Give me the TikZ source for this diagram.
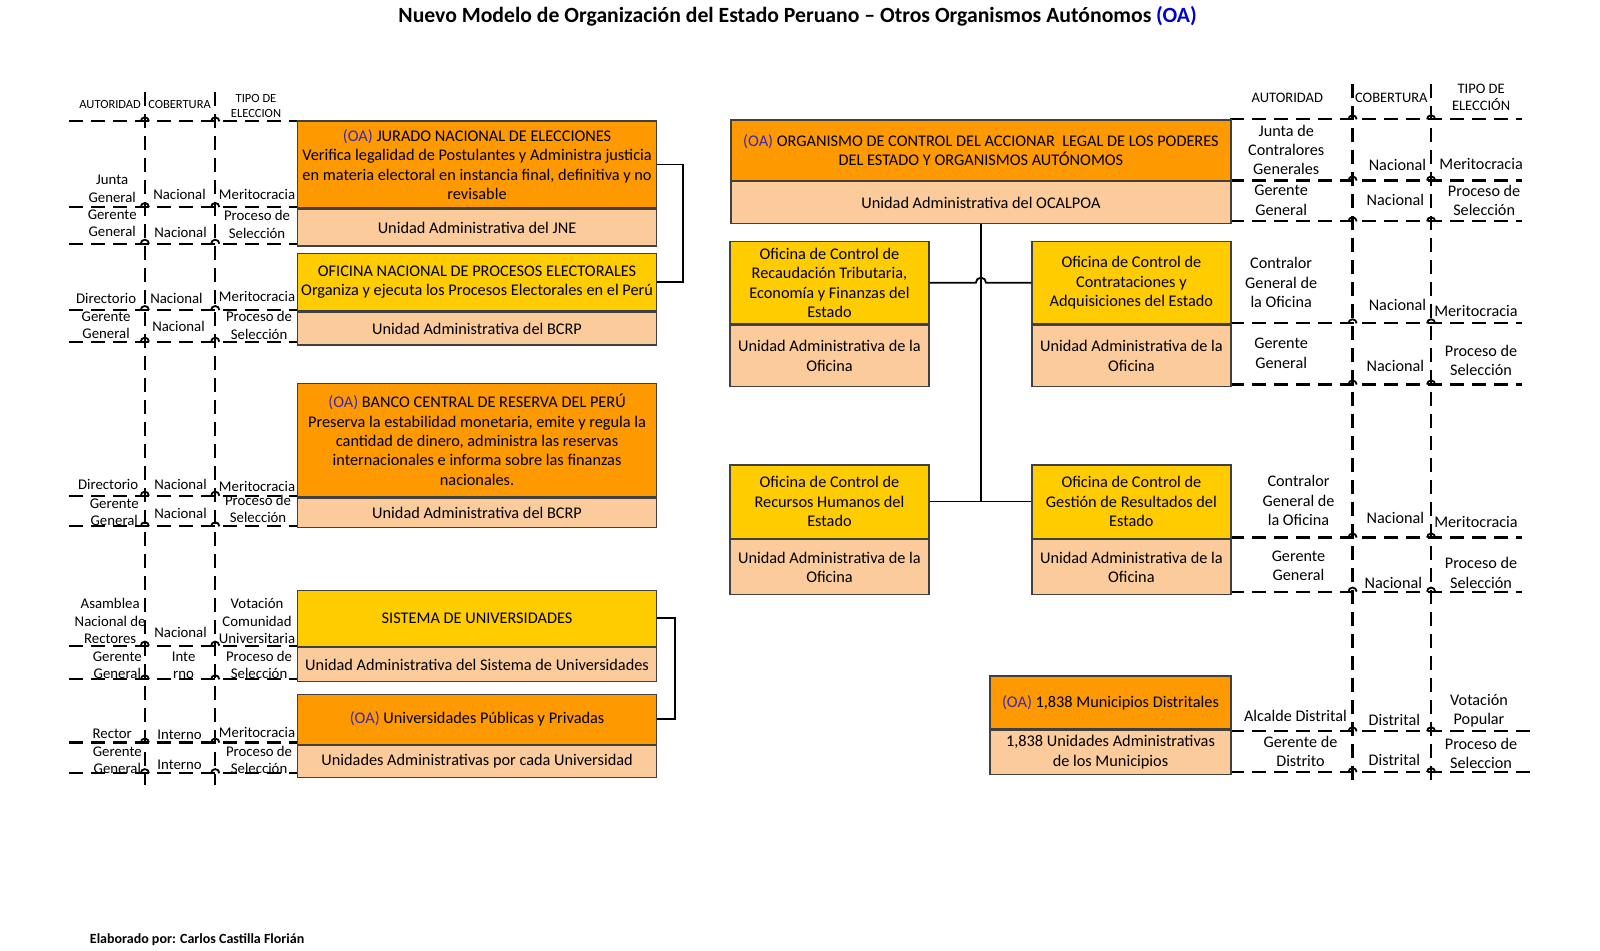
\documentclass[tikz,border=0pt]{standalone}
\usepackage{fontspec}
\setmainfont{Carlito}
\usetikzlibrary{calc}
\definecolor{orgc}{RGB}{255,153,0}
\definecolor{yelc}{RGB}{255,204,0}
\definecolor{pchc}{RGB}{251,203,155}
\definecolor{brdc}{RGB}{64,64,64}
\definecolor{oablue}{RGB}{60,40,180}
\definecolor{titblue}{RGB}{0,0,204}
\newcommand{\oa}{\textcolor{oablue}{(OA)}}
\newcommand{\myu}{1.02pt}
\begin{document}
\begin{tikzpicture}[x=1.02pt,y=-1.02pt,
  boxbase/.style={draw=brdc,line width=1.4pt,align=center,inner sep=2pt,font=\fontsize{16.3}{19.4}\selectfont},
  obox/.style={boxbase,fill=orgc,anchor=north west},
  ybox/.style={boxbase,fill=yelc,anchor=north west},
  pbox/.style={boxbase,fill=pchc,anchor=north},
  conn/.style={line width=1.8pt,black},
  tline/.style={line width=2.2pt,black,dash pattern=on 14pt off 8pt},
  hop/.style={line width=1.8pt,black},
  lab/.style={align=center,inner sep=0pt,font=\fontsize{14.8}{17.3}\selectfont},
  rlab/.style={align=center,inner sep=0pt,font=\fontsize{16.2}{19.4}\selectfont},
  lhead/.style={align=center,inner sep=0pt,font=\fontsize{12.5}{14.3}\selectfont},
  rhead/.style={align=center,inner sep=0pt,font=\fontsize{14.5}{17.3}\selectfont}]
\path[use as bounding box,fill=white] (0,0) rectangle (1568.6,931.4);

% title and footer
\node[font=\fontsize{21.7}{25}\selectfont\bfseries,inner sep=0pt] (title) at (782,16) {Nuevo Modelo de Organización del Estado Peruano -- Otros Organismos Autónomos \textcolor{titblue}{(OA)}};
\node[font=\fontsize{14}{16}\selectfont\bfseries,inner sep=0pt,anchor=west] (footer) at (88,921) {Elaborado por: Carlos Castilla Florián};

% left tables lines
\foreach \yy in {119,203,239,304,335,486,516,633,666,728,758}{
  \draw[tline] (68,\yy) -- (291,\yy);
}
\foreach \xx in {142,211}{
  \draw[tline] (\xx,90) -- (\xx,770);
  \foreach \yy in {119,203,239,304,335,486,516,633,666,728,758}{
    \draw[hop] (\xx-4,\yy) arc (180:360:4);
  }
}
% right table lines
\foreach \yy in {117,177,217,317,377,527,580}{
  \draw[tline] (1206,\yy) -- (1492,\yy);
}
\foreach \yy in {717,757}{
  \draw[tline] (1206,\yy) -- (1500,\yy);
}
\foreach \xx in {1326,1403}{
  \draw[tline] (\xx,82) -- (\xx,765);
  \foreach \yy in {117,177,217,317,377,527,580,717,757}{
    \draw[hop] (\xx-4,\yy) arc (180:360:4);
  }
}

% left boxes
\node[obox,minimum width=352*\myu,minimum height=85*\myu] (jne) at (291,118) {\oa{} JURADO NACIONAL DE ELECCIONES\\Verifica legalidad de Postulantes y Administra justicia\\en materia electoral en instancia final, definitiva y no\\revisable};
\node[pbox,minimum width=352*\myu,minimum height=36*\myu] (jneua) at (jne.south) {Unidad Administrativa del JNE};
\node[ybox,minimum width=352*\myu,minimum height=56*\myu] (onpe) at (291,248) {OFICINA NACIONAL DE PROCESOS ELECTORALES\\Organiza y ejecuta los Procesos Electorales en el Perú};
\node[pbox,minimum width=352*\myu,minimum height=32*\myu] (onpeua) at (onpe.south) {Unidad Administrativa del BCRP};
\node[obox,minimum width=352*\myu,minimum height=111*\myu] (bcrp) at (291,375) {\oa{} BANCO CENTRAL DE RESERVA DEL PERÚ\\Preserva la estabilidad monetaria, emite y regula la\\cantidad de dinero, administra las reservas\\internacionales e informa sobre las finanzas\\nacionales.};
\node[pbox,minimum width=352*\myu,minimum height=29*\myu] (bcrpua) at (bcrp.south) {Unidad Administrativa del BCRP};
\node[ybox,minimum width=352*\myu,minimum height=55*\myu] (sis) at (291,578) {SISTEMA DE UNIVERSIDADES};
\node[pbox,minimum width=352*\myu,minimum height=33*\myu] (sisua) at (sis.south) {Unidad Administrativa del Sistema de Universidades};
\node[obox,minimum width=352*\myu,minimum height=49*\myu] (univ) at (291,680) {\oa{} Universidades Públicas y Privadas};
\node[pbox,minimum width=352*\myu,minimum height=31*\myu] (univua) at (univ.south) {Unidades Administrativas por cada Universidad};

% right boxes
\node[obox,minimum width=490*\myu,minimum height=59*\myu] (ocal) at (716,117) {\oa{} ORGANISMO DE CONTROL DEL ACCIONAR\ \ LEGAL DE LOS PODERES\\DEL ESTADO Y ORGANISMOS AUTÓNOMOS};
\node[pbox,minimum width=490*\myu,minimum height=41*\myu] (ocalua) at (ocal.south) {Unidad Administrativa del OCALPOA};
\node[ybox,minimum width=195*\myu,minimum height=81*\myu] (rec) at (715,236) {Oficina de Control de\\Recaudación Tributaria,\\Economía y Finanzas del\\Estado};
\node[pbox,minimum width=195*\myu,minimum height=60*\myu] (recua) at (rec.south) {Unidad Administrativa de la\\Oficina};
\node[ybox,minimum width=195*\myu,minimum height=81*\myu] (cont) at (1011,236) {Oficina de Control de\\Contrataciones y\\Adquisiciones del Estado};
\node[pbox,minimum width=195*\myu,minimum height=60*\myu] (contua) at (cont.south) {Unidad Administrativa de la\\Oficina};
\node[ybox,minimum width=195*\myu,minimum height=72*\myu] (rrhh) at (715,455) {Oficina de Control de\\Recursos Humanos del\\Estado};
\node[pbox,minimum width=195*\myu,minimum height=54*\myu] (rrhhua) at (rrhh.south) {Unidad Administrativa de la\\Oficina};
\node[ybox,minimum width=195*\myu,minimum height=72*\myu] (gest) at (1011,455) {Oficina de Control de\\Gestión de Resultados del\\Estado};
\node[pbox,minimum width=195*\myu,minimum height=54*\myu] (gestua) at (gest.south) {Unidad Administrativa de la\\Oficina};
\node[obox,minimum width=236*\myu,minimum height=52*\myu] (muni) at (970,662) {\oa{} 1,838 Municipios Distritales};
\node[pbox,minimum width=236*\myu,minimum height=43*\myu] (muniua) at (muni.south) {1,838 Unidades Administrativas\\de los Municipios};

% connectors
\draw[conn] (jne.east) -- ++(25,0) |- (onpe.east);
\draw[conn] (sis.east) -- ++(17,0) |- (univ.east);
\draw[conn] (ocalua.south) -- (ocalua.south |- rrhh.east);
\draw[conn] (rrhh.east) -- (gest.west);
\coordinate (hopc) at (ocalua.south |- rec.east);
\draw[conn] (rec.east) -- ($(hopc)+(-5,0)$) arc (180:360:5) -- (cont.west);

% left headers
\node[lhead] (lh1) at (108,102) {AUTORIDAD};
\node[lhead] (lh2) at (176,102) {COBERTURA};
\node[lhead] (lh3) at (251,104) {TIPO DE\\ELECCION};

% left labels
\node[lab] (l1a) at (110,185) {Junta\\General};
\node[lab] (l1b) at (176,191) {Nacional};
\node[lab] (l1c) at (252,191) {Meritocracia};
\node[lab] (l2a) at (110,219) {Gerente\\General};
\node[lab] (l2b) at (177,228) {Nacional};
\node[lab] (l2c) at (252,220) {Proceso de\\Selección};
\node[lab] (l3a) at (104,293) {Directorio};
\node[lab] (l3b) at (173,293) {Nacional};
\node[lab] (l3c) at (252,291) {Meritocracia};
\node[lab] (l4a) at (104,319) {Gerente\\General};
\node[lab] (l4b) at (175,320) {Nacional};
\node[lab] (l4c) at (254,319) {Proceso de\\Selección};
\node[lab] (l5a) at (106,475) {Directorio};
\node[lab] (l5b) at (177,475) {Nacional};
\node[lab] (l5c) at (252,477) {Meritocracia};
\node[lab] (l6a) at (112,502) {Gerente\\General};
\node[lab] (l6b) at (177,503) {Nacional};
\node[lab] (l6c) at (253,499) {Proceso de\\Selección};
\node[lab] (l7a) at (108,609) {Asamblea\\Nacional de\\Rectores};
\node[lab] (l7b) at (177,620) {Nacional};
\node[lab] (l7c) at (252,609) {Votación\\Comunidad\\Universitaria};
\node[lab] (l8a) at (115,652) {Gerente\\General};
\node[lab] (l8b) at (180,652) {Inte\\rno};
\node[lab] (l8c) at (254,652) {Proceso de\\Selección};
\node[lab] (l9a) at (110,719) {Rector};
\node[lab] (l9b) at (176,720) {Interno};
\node[lab] (l9c) at (252,718) {Meritocracia};
\node[lab] (l10a) at (115,745) {Gerente\\General};
\node[lab] (l10b) at (176,750) {Interno};
\node[lab] (l10c) at (254,745) {Proceso de\\Selección};

% right headers
\node[rhead] (rh1) at (1262,96) {AUTORIDAD};
\node[rhead] (rh2) at (1364,96) {COBERTURA};
\node[rhead] (rh3) at (1452,95.5) {TIPO DE\\ELECCIÓN};

% right labels
\node[rlab] (r1a) at (1261,147) {Junta de\\Contralores\\Generales};
\node[rlab] (r1b) at (1370,162) {Nacional};
\node[rlab] (r1c) at (1452,161) {Meritocracia};
\node[rlab] (r2a) at (1256,196.5) {Gerente\\General};
\node[rlab] (r2b) at (1368,196) {Nacional};
\node[rlab] (r2c) at (1455,196.5) {Proceso de\\Selección};
\node[rlab] (r3a) at (1256,277) {Contralor\\General de\\la Oficina};
\node[rlab] (r3b) at (1370,299) {Nacional};
\node[rlab] (r3c) at (1447,305) {Meritocracia};
\node[rlab] (r4a) at (1256,346.5) {Gerente\\General};
\node[rlab] (r4b) at (1368,359) {Nacional};
\node[rlab] (r4c) at (1452,353.5) {Proceso de\\Selección};
\node[rlab] (r5a) at (1273,491) {Contralor\\General de\\la Oficina};
\node[rlab] (r5b) at (1368,508) {Nacional};
\node[rlab] (r5c) at (1447,512) {Meritocracia};
\node[rlab] (r6a) at (1273,554.5) {Gerente\\General};
\node[rlab] (r6b) at (1366,571) {Nacional};
\node[rlab] (r6c) at (1452,561.5) {Proceso de\\Selección};
\node[rlab] (r7a) at (1270,702) {Alcalde Distrital};
\node[rlab] (r7b) at (1367,706) {Distrital};
\node[rlab] (r7c) at (1450,696.5) {Votación\\Popular};
\node[rlab] (r8a) at (1275,736.5) {Gerente de\\Distrito};
\node[rlab] (r8b) at (1367,745) {Distrital};
\node[rlab] (r8c) at (1452,738.5) {Proceso de\\Seleccion};
\end{tikzpicture}
\end{document}
